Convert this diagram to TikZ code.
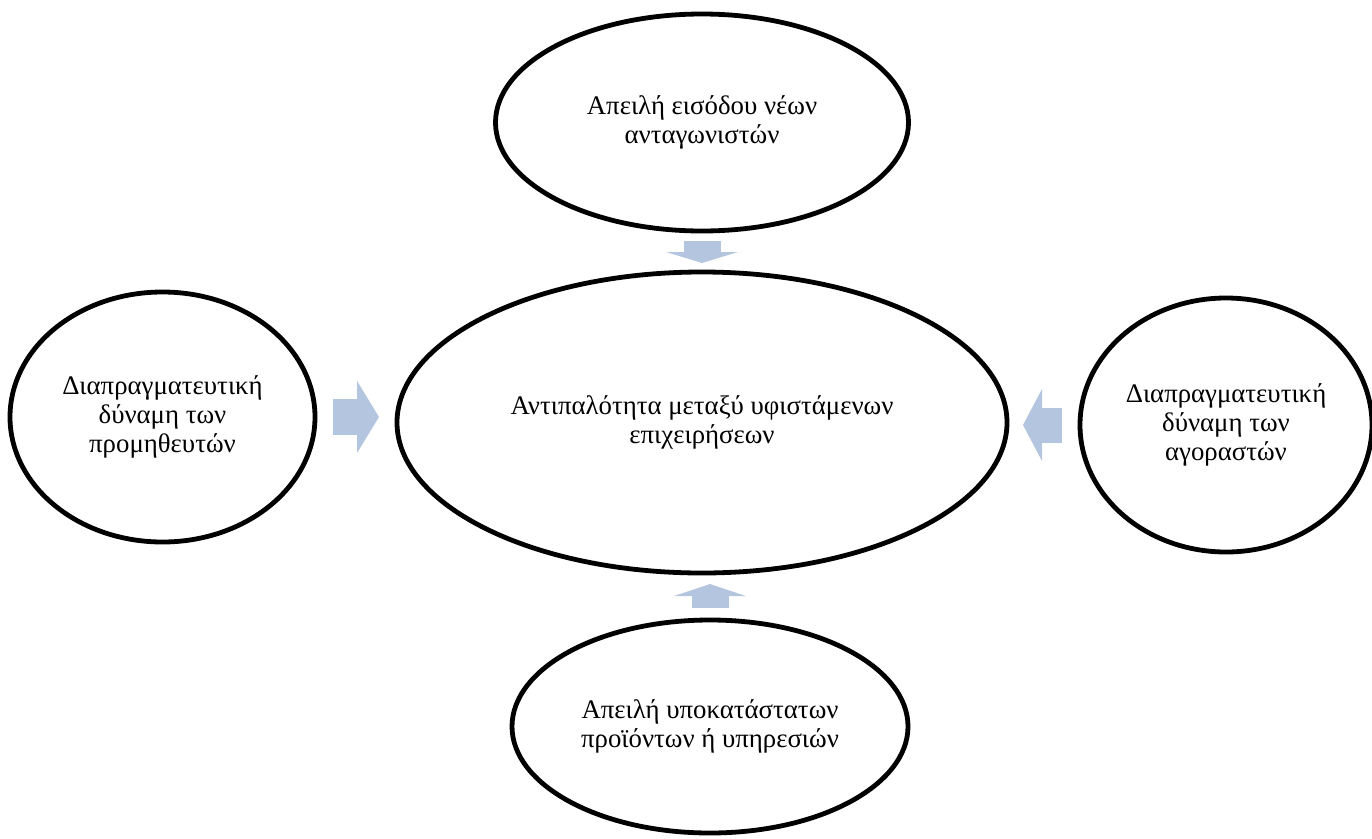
\documentclass[tikz,border=0pt]{standalone}
\usepackage{fontspec}
\setmainfont{Liberation Serif}
\usepackage{tikz}
\usetikzlibrary{positioning,shapes.geometric,arrows.meta}
\definecolor{forceblue}{RGB}{180,197,223}
\tikzset{
  force/.style={ellipse,draw,line width=4.8pt,inner sep=0pt,outer sep=0pt,align=center,
    font=\fontsize{26.8}{29}\selectfont},
  push/.style={draw=forceblue,line width=36pt}
}

\begin{document}
\begin{tikzpicture}[x=1pt,y=-1pt]
  \useasboundingbox (0,0) rectangle (1372,838);
  \node [force,minimum width=610pt,minimum height=301pt] (R) at (702,422.5)
    {Αντιπαλότητα μεταξύ υφιστάμενων\\επιχειρήσεων};
  \node [force,minimum width=413pt,minimum height=217pt,above=41pt of R] (N)
    {Απειλή εισόδου νέων\\ανταγωνιστών};
  \node [force,minimum width=305pt,minimum height=250pt,left=82pt of R,yshift=5.5pt] (S)
    {Διαπραγματευτική\\δύναμη των\\προμηθευτών};
  \node [force,minimum width=292pt,minimum height=254pt,right=73pt of R,yshift=-2.5pt] (B)
    {Διαπραγματευτική\\δύναμη των\\αγοραστών};
  \node [force,minimum width=396pt,minimum height=213pt,below=47pt of R,xshift=8pt] (P)
    {Απειλή υποκατάστατων\\προϊόντων ή υπηρεσιών};
  % block arrows towards the centre
  \draw [push,line width=37pt,shorten <=10pt,shorten >=9pt,-{Triangle[length=11pt,width=72pt,line width=0pt]}]
    (N.south) -- (N.south |- R.north);
  \draw [push,shorten <=18pt,shorten >=18pt,-{Triangle[length=22pt,width=72pt,line width=0pt]}]
    (S.east) -- (S.east -| R.west);
  \draw [push,line width=35pt,shorten <=18pt,shorten >=16pt,-{Triangle[length=19pt,width=72pt,line width=0pt]}]
    (B.west) -- (B.west -| R.east);
  \draw [push,line width=37pt,shorten <=12pt,shorten >=11pt,-{Triangle[length=12pt,width=72pt,line width=0pt]}]
    (P.north) -- (P.north |- R.south);
\end{tikzpicture}
\end{document}
